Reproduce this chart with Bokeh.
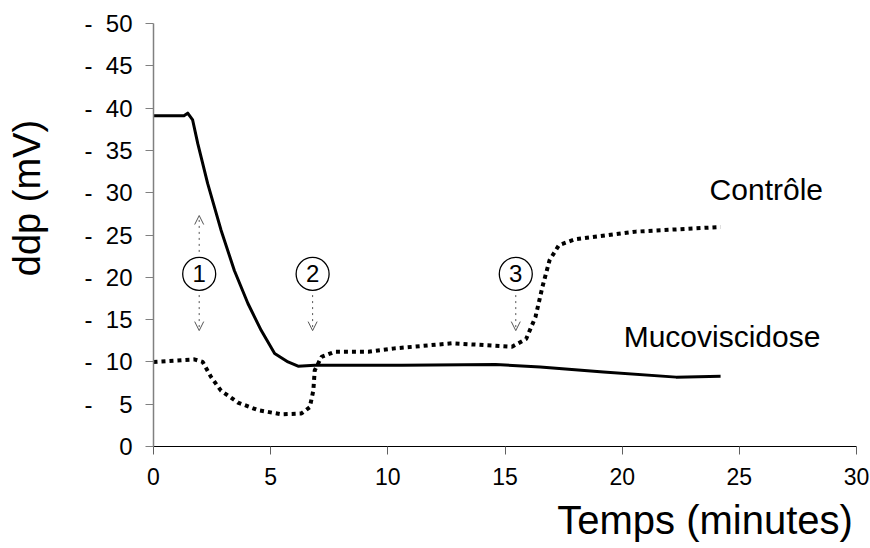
from bokeh.plotting import figure
from bokeh.models import Range1d, Label, Arrow, OpenHead, ColumnDataSource, FixedTicker
from bokeh.core.properties import value
from bokeh.embed import file_html
from bokeh.resources import INLINE

# ---- data ----
muco_t = [0, 1.3, 1.46, 1.67, 1.89, 2.31, 2.88, 3.45, 4.03, 4.6, 5.17, 5.74, 6.17, 6.88,
          10.6, 14.6, 16.5, 19.2, 22.3, 24.2]
muco_v = [39.1, 39.1, 39.4, 38.6, 35.8, 31.1, 25.6, 20.8, 16.9, 13.7, 11.0, 10.0, 9.5, 9.6,
          9.6, 9.7, 9.4, 8.8, 8.2, 8.3]

ctrl_t = [0, 1.74, 2.1, 2.46, 2.88, 3.6, 4.46, 5.46, 6.31, 6.67, 6.82, 6.88, 7.17, 7.74,
          9.17, 10.3, 12.74, 15.3, 15.9, 16.3, 16.6, 16.9, 17.3, 18.0, 20.6, 24.2]
ctrl_v = [10.0, 10.3, 10.0, 8.2, 6.6, 5.2, 4.3, 3.8, 3.9, 4.65, 6.6, 9.0, 10.6, 11.2,
          11.2, 11.6, 12.2, 11.8, 12.7, 15.3, 18.9, 22.0, 23.8, 24.5, 25.4, 25.95]

step_t = [1.95, 6.79, 15.46]
step_v = [20.4, 20.4, 20.4]
step_labels = ["1", "2", "3"]
arrow_down_from = 17.9
arrow_down_to = 13.7
arrow_up_t = [1.95]
arrow_up_from = 23.0
arrow_up_to = 27.3

yticks = [0, 5, 10, 15, 20, 25, 30, 35, 40, 45, 50]
ytick_labels = ["0", "-\u00a0\u00a0\u00a0\u00a05", "-\u00a0\u00a010", "-\u00a0\u00a015",
                "-\u00a0\u00a020", "-\u00a0\u00a025", "-\u00a0\u00a030", "-\u00a0\u00a035",
                "-\u00a0\u00a040", "-\u00a0\u00a045", "-\u00a0\u00a050"]
xticks = [0, 5, 10, 15, 20, 25, 30]

series_names = ["Contrôle", "Mucoviscidose"]
x_title = "Temps (minutes)"
y_title = "ddp (mV)"

FONT = "Liberation Sans"
NB = "\u00a0"

p = figure(width=870, height=548, output_backend="svg", toolbar_location=None,
           x_range=Range1d(0, 30), y_range=Range1d(0, 50),
           min_border_left=153, min_border_right=14, min_border_top=23, min_border_bottom=102)
p.outline_line_color = None
p.xgrid.grid_line_color = None
p.ygrid.grid_line_color = None
p.background_fill_color = "white"
p.border_fill_color = "white"

# axes
p.yaxis.ticker = FixedTicker(ticks=yticks)
p.yaxis.major_label_overrides = {t: l for t, l in zip(yticks, ytick_labels)}
p.yaxis.major_label_text_font = FONT
p.yaxis.major_label_text_font_size = "24px"
p.yaxis.major_label_text_color = "black"
p.yaxis.major_tick_out = 8
p.yaxis.major_tick_in = 0
p.yaxis.minor_tick_line_color = None
p.yaxis.major_label_standoff = 13
p.yaxis.axis_line_color = "#808080"
p.yaxis.major_tick_line_color = "#808080"
p.yaxis.axis_line_width = 1.5
p.yaxis.axis_label = NB * 7 + y_title
p.yaxis.axis_label_text_font = FONT
p.yaxis.axis_label_text_font_size = "38px"
p.yaxis.axis_label_text_font_style = "normal"
p.yaxis.axis_label_text_color = "black"
p.yaxis.axis_label_standoff = 33

p.xaxis.ticker = FixedTicker(ticks=xticks)
p.xaxis.major_label_text_font = "'Liberation Sans Narrow', 'Liberation Sans', sans-serif"
p.xaxis.major_label_text_font_size = "23px"
p.xaxis.major_label_text_color = "black"
p.xaxis.major_tick_out = 8
p.xaxis.major_tick_in = 0
p.xaxis.minor_tick_line_color = None
p.xaxis.major_label_standoff = 13
p.xaxis.axis_line_color = "black"
p.xaxis.major_tick_line_color = "#606060"
p.xaxis.axis_label = NB * 36 + x_title
p.xaxis.axis_label_text_font = FONT
p.xaxis.axis_label_text_font_size = "40px"
p.xaxis.axis_label_text_font_style = "normal"
p.xaxis.axis_label_text_color = "black"
p.xaxis.axis_label_standoff = 10

# series
p.line(ctrl_t, ctrl_v, line_color="black", line_width=4, line_dash="4 4")
p.line(muco_t, muco_v, line_color="black", line_width=3, line_join="round")

# step markers
src = ColumnDataSource(dict(t=step_t, v=step_v, lab=step_labels))
p.scatter("t", "v", source=src, marker="circle", size=33, fill_color="white",
          line_color="black", line_width=1.3)
p.text("t", "v", text="lab", source=src, text_align="center", text_baseline="middle",
       text_font=value(FONT), text_font_size="24px", text_color="black")

for t in step_t:
    p.add_layout(Arrow(x_start=t, y_start=arrow_down_from, x_end=t, y_end=arrow_down_to,
                       line_color="#555555", line_width=1, line_dash="dotted",
                       end=OpenHead(size=9, line_color="#555555", line_width=1)))
for t in arrow_up_t:
    p.add_layout(Arrow(x_start=t, y_start=arrow_up_from, x_end=t, y_end=arrow_up_to,
                       line_color="#555555", line_width=1, line_dash="dotted",
                       end=OpenHead(size=9, line_color="#555555", line_width=1)))

# series labels
p.add_layout(Label(x=28.57, y=30.4, text=series_names[0], text_align="right",
                   text_baseline="alphabetic", text_font=FONT, text_font_size="30px",
                   text_color="black"))
p.add_layout(Label(x=28.46, y=13.05, text=series_names[1], text_align="right",
                   text_baseline="alphabetic", text_font=FONT, text_font_size="30px",
                   text_color="black"))

open("out.html", "w").write(file_html(p, INLINE))
